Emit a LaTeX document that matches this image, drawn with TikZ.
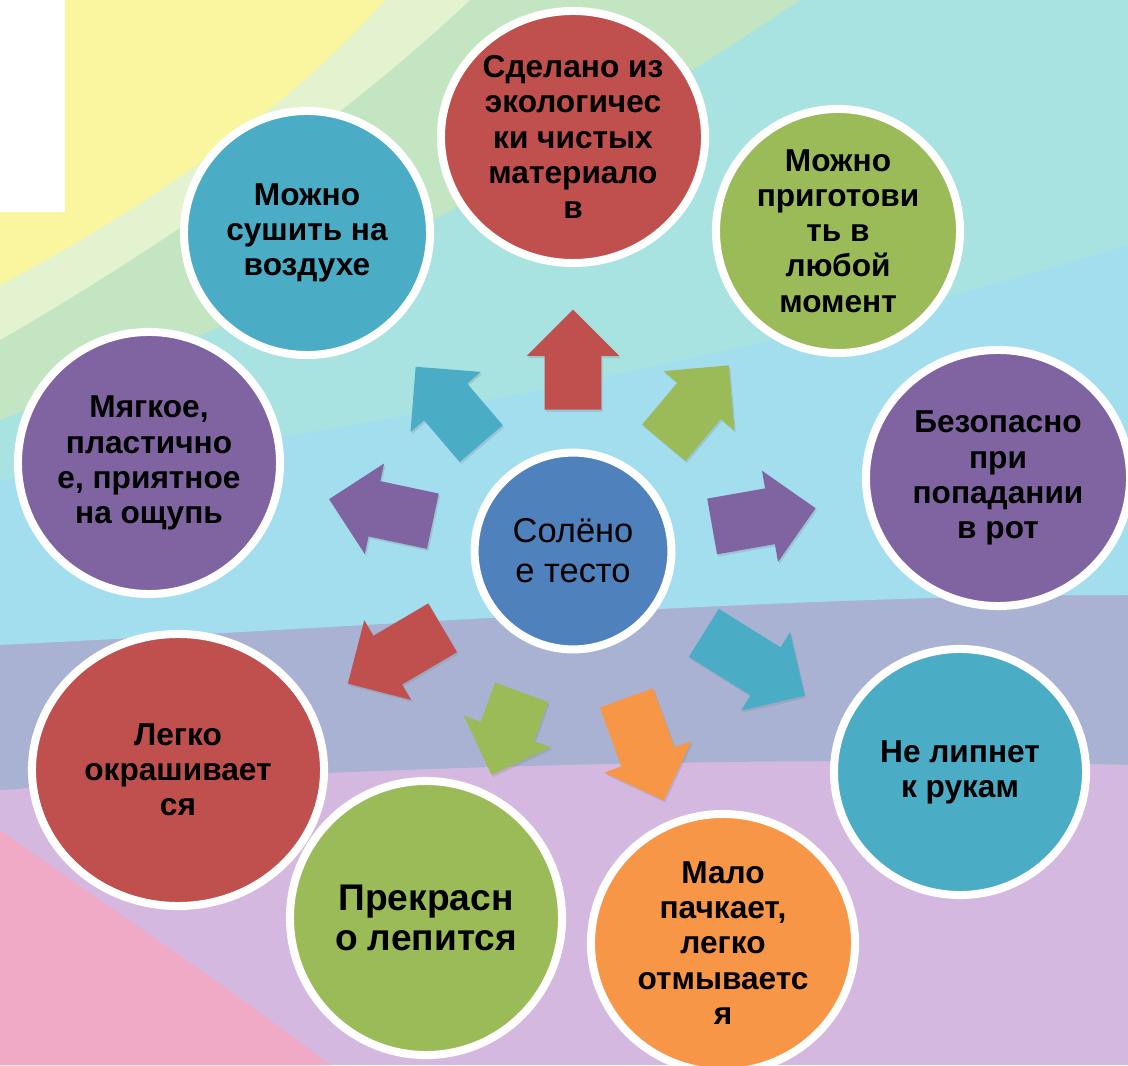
\documentclass[tikz,border=0pt]{standalone}
\usepackage{fontspec}
\setmainfont{Liberation Sans}
\usetikzlibrary{positioning, calc, shapes.geometric, shapes.arrows, shadows}

\definecolor{dred}{HTML}{C0504D}
\definecolor{dgreen}{HTML}{9BBB59}
\definecolor{dpurple}{HTML}{8064A2}
\definecolor{dteal}{HTML}{4BACC6}
\definecolor{dorange}{HTML}{F79646}
\definecolor{dblue}{HTML}{4F81BD}

\begin{document}
\begin{tikzpicture}[
            x=0.025cm, y=0.025cm,
            bubble/.style = {
                shape=ellipse, draw=white, line width=5.7pt,
                inner sep=0pt, align=center, text=black,
                font=\bfseries\fontsize{22.5}{25}\selectfont,
                drop shadow={shadow xshift=1.5pt, shadow yshift=-2pt, opacity=0.3}
            },
            blockarrow/.style = {
                shape=single arrow, inner xsep=0pt, inner ysep=0.7cm,
                single arrow head extend=0.45cm, anchor=tail,
                drop shadow={shadow xshift=1pt, shadow yshift=-1.5pt, opacity=0.25}
            }
        ]
        \useasboundingbox (0,0) rectangle (1128,1065);

        % background swooshes
        \fill[color={rgb,255:red,213;green,184;blue,223}] (0,0) rectangle (1128,1065);
        \fill[color={rgb,255:red,169;green,178;blue,211}] (0,275) .. controls (400,300) and (800,310) .. (1128,300) -- (1128,1065) -- (0,1065) -- cycle;
        \fill[color={rgb,255:red,163;green,222;blue,239}] (0,420) .. controls (400,440) and (800,470) .. (1128,470) -- (1128,1065) -- (0,1065) -- cycle;
        \fill[color={rgb,255:red,168;green,227;blue,226}] (0,585) .. controls (400,640) and (800,720) .. (1128,820) -- (1128,1065) -- (0,1065) -- cycle;
        \fill[color={rgb,255:red,195;green,229;blue,193}] (0,645) .. controls (300,760) and (600,930) .. (800,1065) -- (0,1065) -- cycle;
        \fill[color={rgb,255:red,228;green,243;blue,207}] (0,725) .. controls (200,840) and (370,970) .. (470,1065) -- (0,1065) -- cycle;
        \fill[color={rgb,255:red,250;green,246;blue,160}] (0,780) .. controls (190,880) and (320,990) .. (385,1065) -- (0,1065) -- cycle;
        \fill[color={rgb,255:red,241;green,170;blue,198}] (0,235) .. controls (120,150) and (240,70) .. (330,0) -- (0,0) -- cycle;
        \fill[white] (0,853) rectangle (65,1065);

        \coordinate (c) at (573,514);

        \node[blockarrow, fill=dred,    minimum height=2.5cm,   rotate=90]     (a1) at ($(c)+(90:141)$) {};
        \node[blockarrow, fill=dgreen,  minimum height=2.525cm, rotate=50]     (a2) at ($(c)+(50:141)$) {};
        \node[blockarrow, fill=dpurple, minimum height=2.625cm, rotate=10]     (a3) at ($(c)+(10:141)$) {};
        \node[blockarrow, fill=dteal,   minimum height=2.975cm, rotate=-32]    (a4) at ($(c)+(-32:154)$) {};
        \node[blockarrow, fill=dorange, minimum height=2.725cm, rotate=-70]    (a5) at ($(c)+(-70:156)$) {};
        \node[blockarrow, fill=dgreen,  minimum height=2.2cm,   rotate=-110]   (a6) at ($(c)+(-110:150)$) {};
        \node[blockarrow, fill=dred,    minimum height=2.75cm,  rotate=-149.5] (a7) at ($(c)+(-149.5:151)$) {};
        \node[blockarrow, fill=dpurple, minimum height=2.65cm,  rotate=168]    (a8) at ($(c)+(168:143)$) {};
        \node[blockarrow, fill=dteal,   minimum height=2.525cm, rotate=130.5]  (a9) at ($(c)+(130.5:141)$) {};

        \node[bubble, fill=dblue, minimum width=4.92cm, minimum height=4.92cm,
              font=\fontsize{24.5}{28.5}\selectfont] (center) at (c) {Солёно\\е тесто};

        \node[bubble, fill=dred,    minimum width=6.6cm,  minimum height=6.3cm]  (o1) at (573,928) {Сделано из\\экологичес\\ки чистых\\материало\\в};
        \node[bubble, fill=dgreen,  minimum width=6.1cm,  minimum height=6.1cm]  (o2) at (838,834) {Можно\\приготови\\ть в\\любой\\момент};
        \node[bubble, fill=dpurple, minimum width=6.6cm,  minimum height=6.4cm]  (o3) at (998,587) {Безопасно\\при\\попадании\\в рот};
        \node[bubble, fill=dteal,   minimum width=6.3cm,  minimum height=6.15cm] (o4) at (960,293) {Не липнет\\к рукам};
        \node[bubble, fill=dorange, minimum width=6.6cm,  minimum height=6.45cm] (o5) at (723,122) {Мало\\пачкает,\\легко\\отмываетс\\я};
        \node[bubble, fill=dred,    minimum width=7.3cm,  minimum height=6.8cm]  (o7) at (178,295) {Легко\\окрашивает\\ся};
        \node[bubble, fill=dgreen,  minimum width=6.8cm,  minimum height=6.85cm,
              font=\bfseries\fontsize{26.4}{29}\selectfont] (o6) at (426,147) {Прекрасн\\о лепится};
        \node[bubble, fill=dpurple, minimum width=6.55cm, minimum height=6.55cm] (o8) at (149,602) {Мягкое,\\пластично\\е, приятное\\на ощупь};
        \node[bubble, fill=dteal,   minimum width=6.15cm, minimum height=6.1cm]  (o9) at (307,832) {Можно\\сушить на\\воздухе};
        \end{tikzpicture}
\end{document}
